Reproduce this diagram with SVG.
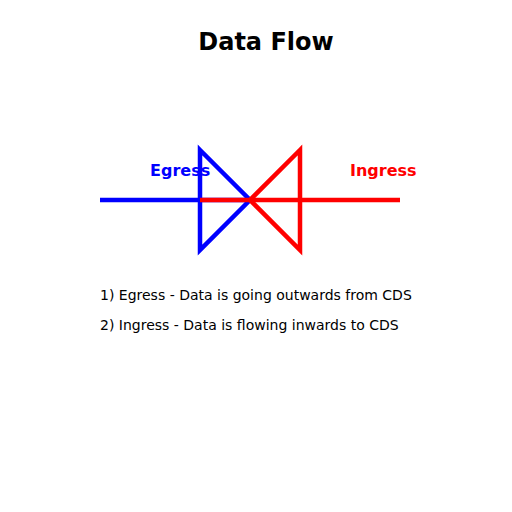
<svg xmlns="http://www.w3.org/2000/svg" width="512" height="512" viewBox="0 0 512 512">
<style>
.t{font-family:"DejaVu Sans",sans-serif}
.b{font-weight:bold}
.ln{fill:none;stroke-width:4.5}
</style>
<rect width="512" height="512" fill="#fff"/>
<text class="t b" x="266" y="50" font-size="24" text-anchor="middle" fill="#000">Data Flow</text>
<g id="connectors">
<line class="ln" x1="100" y1="200" x2="250" y2="200" stroke="#0000ff"/>
</g>
<g id="egress">
<polygon class="ln" points="200,150 250,200 200,250" stroke="#0000ff"/>
<text class="t b" x="150" y="176" font-size="16" fill="#0000ff">Egress</text>
</g>
<g id="ingress">
<line class="ln" x1="200" y1="200" x2="400" y2="200" stroke="#ff0000"/>
<polygon class="ln" points="300,150 250,200 300,250" stroke="#ff0000"/>
<text class="t b" x="350" y="176" font-size="16" fill="#ff0000">Ingress</text>
</g>
<g id="notes">
<text class="t" x="100" y="300" font-size="14" fill="#000">1) Egress - Data is going outwards from CDS</text>
<text class="t" x="100" y="330" font-size="14" fill="#000">2) Ingress - Data is flowing inwards to CDS</text>
</g>
</svg>
